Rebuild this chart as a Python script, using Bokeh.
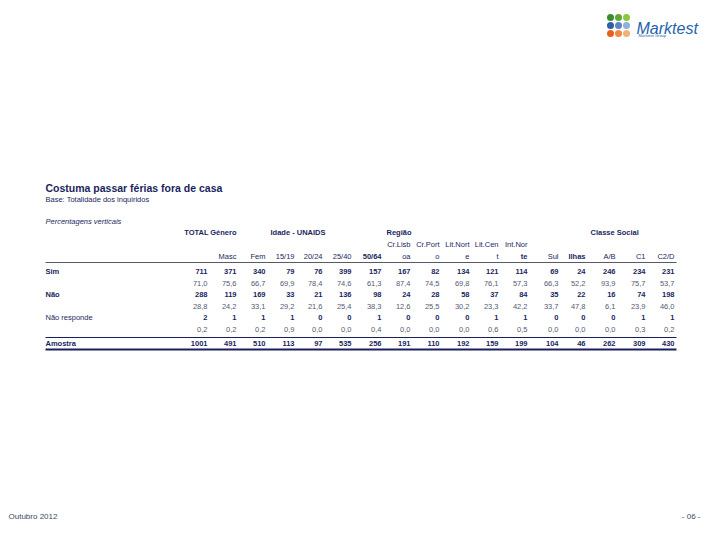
from bokeh.plotting import figure
from bokeh.models import Range1d, ColumnDataSource
from bokeh.core.properties import value
from bokeh.embed import file_html
from bokeh.resources import INLINE

# ---------------- data ----------------
title = "Costuma passar férias fora de casa"
base = "Base: Totalidade dos inquiridos"
note = "Percentagens verticais"

group_labels = ["TOTAL", "Género", "Idade - UNAIDS", "Região", "Classe Social"]
col_top = ["", "", "", "", "", "", "", "Cr.Lisb", "Cr.Port", "Lit.Nort", "Lit.Cen", "Int.Nor",
           "", "", "", "", ""]
col_bottom = ["", "Masc", "Fem", "15/19", "20/24", "25/40", "50/64", "oa", "o", "e", "t", "te",
              "Sul", "Ilhas", "A/B", "C1", "C2/D"]

row_labels = ["Sim", "Não", "Não responde"]
sim_n = [711, 371, 340, 79, 76, 399, 157, 167, 82, 134, 121, 114, 69, 24, 246, 234, 231]
sim_p = [71.0, 75.6, 66.7, 69.9, 78.4, 74.6, 61.3, 87.4, 74.5, 69.8, 76.1, 57.3, 66.3, 52.2, 93.9, 75.7, 53.7]
nao_n = [288, 119, 169, 33, 21, 136, 98, 24, 28, 58, 37, 84, 35, 22, 16, 74, 198]
nao_p = [28.8, 24.2, 33.1, 29.2, 21.6, 25.4, 38.3, 12.6, 25.5, 30.2, 23.3, 42.2, 33.7, 47.8, 6.1, 23.9, 46.0]
nr_n = [2, 1, 1, 1, 0, 0, 1, 0, 0, 0, 1, 1, 0, 0, 0, 1, 1]
nr_p = [0.2, 0.2, 0.2, 0.9, 0.0, 0.0, 0.4, 0.0, 0.0, 0.0, 0.6, 0.5, 0.0, 0.0, 0.0, 0.3, 0.2]
amostra_label = "Amostra"
amostra = [1001, 491, 510, 113, 97, 535, 256, 191, 110, 192, 159, 199, 104, 46, 262, 309, 430]

footer_left = "Outubro 2012"
footer_right = "- 06 -"
brand = "Marktest"
brand_sub = "Marktest Group"

# ---------------- layout ----------------
col_x = [207, 236, 265, 294, 322, 351, 381, 410, 439, 469, 498, 527, 558, 585, 615, 645, 674]
group_x = [208, 236, 270, 386, 590]
group_align = ["right", "right", "left", "left", "left"]
y_group, y_top, y_bottom = 232, 244, 256
row_y = [271, 294, 317]
pct_dy = 12
y_amostra = 343
label_x = 45

NAVY = "#1b1f5e"
GREY = "#555a70"
FONT = value("Liberation Sans")


def fmt_pct(v):
    return f"{v:.1f}".replace(".", ",")


p = figure(width=704, height=524, output_backend="svg", toolbar_location=None,
           x_range=Range1d(0, 704), y_range=Range1d(524, 0), min_border=0)
p.axis.visible = False
p.grid.visible = False
p.outline_line_color = None
p.background_fill_color = "white"
p.border_fill_color = "white"

# titles
p.text(x=[label_x], y=[187], text=[title], text_font=FONT, text_font_size="10.5px",
       text_font_style="bold", text_color=NAVY, text_baseline="middle")
p.text(x=[label_x], y=[199], text=[base], text_font=FONT, text_font_size="7.5px",
       text_color=NAVY, text_baseline="middle")
p.text(x=[label_x], y=[221], text=[note], text_font=FONT, text_font_size="7.5px",
       text_font_style="italic", text_color=NAVY, text_baseline="middle")

# group header
for lab, gx, al in zip(group_labels, group_x, group_align):
    p.text(x=[gx], y=[y_group], text=[lab], text_font=FONT, text_font_size="7.5px",
           text_font_style="bold", text_color=NAVY, text_baseline="middle", text_align=al)

bold_cols = {"50/64", "te", "Ilhas"}
top_src = ColumnDataSource(dict(x=col_x, y=[y_top] * len(col_x), t=col_top))
p.text(x="x", y="y", text="t", source=top_src, text_font=FONT, text_font_size="7.5px",
       text_color=NAVY, text_baseline="middle", text_align="right")
for cx, lab in zip(col_x, col_bottom):
    p.text(x=[cx], y=[y_bottom], text=[lab], text_font=FONT, text_font_size="7.5px",
           text_color=NAVY, text_baseline="middle", text_align="right",
           text_font_style="bold" if lab in bold_cols else "normal")

# rules
p.segment(x0=[label_x], y0=[262], x1=[676], y1=[262], line_color="#5a5a66", line_width=1)
p.segment(x0=[label_x], y0=[337], x1=[676], y1=[337], line_color=NAVY, line_width=1)
p.segment(x0=[label_x], y0=[349], x1=[676], y1=[349], line_color=NAVY, line_width=1.8)

# body rows
rows = [(sim_n, sim_p), (nao_n, nao_p), (nr_n, nr_p)]
for lab, ry, (ns, ps) in zip(row_labels, row_y, rows):
    p.text(x=[label_x], y=[ry], text=[lab], text_font=FONT, text_font_size="7.5px",
           text_font_style="normal" if lab == "Não responde" else "bold",
           text_color=NAVY, text_baseline="middle")
    src_n = ColumnDataSource(dict(x=col_x, y=[ry] * len(col_x), t=[str(v) for v in ns]))
    p.text(x="x", y="y", text="t", source=src_n, text_font=FONT, text_font_size="7.5px",
           text_font_style="bold", text_color=NAVY, text_baseline="middle", text_align="right")
    src_p = ColumnDataSource(dict(x=col_x, y=[ry + pct_dy] * len(col_x), t=[fmt_pct(v) for v in ps]))
    p.text(x="x", y="y", text="t", source=src_p, text_font=FONT, text_font_size="7.5px",
           text_color=GREY, text_baseline="middle", text_align="right")

p.text(x=[label_x], y=[y_amostra], text=[amostra_label], text_font=FONT, text_font_size="7.5px",
       text_font_style="bold", text_color=NAVY, text_baseline="middle")
src_a = ColumnDataSource(dict(x=col_x, y=[y_amostra] * len(col_x), t=[str(v) for v in amostra]))
p.text(x="x", y="y", text="t", source=src_a, text_font=FONT, text_font_size="7.5px",
       text_font_style="bold", text_color=NAVY, text_baseline="middle", text_align="right")

# logo
dot_colors = ["#3d8b2f", "#5ea834", "#8cc63f",
              "#2d5ea6", "#5b86c5", "#8fb0dc",
              "#e8601c", "#f08a3c", "#f5b07a"]
dx = [610, 618, 626] * 3
dy = [17] * 3 + [25] * 3 + [33] * 3
p.scatter(x=dx, y=dy, size=7, color=dot_colors, line_color=None)
p.text(x=[636], y=[28], text=[brand], text_font=FONT, text_font_size="16px",
       text_font_style="italic", text_color="#2563ae", text_baseline="alphabetic")
p.text(x=[638], y=[35], text=[brand_sub], text_font=FONT, text_font_size="4px",
       text_color="#2563ae", text_baseline="middle")

# footer
p.text(x=[8], y=[516], text=[footer_left], text_font=FONT, text_font_size="8px",
       text_color="#3b4a5e", text_baseline="middle")
p.text(x=[700], y=[516], text=[footer_right], text_font=FONT, text_font_size="8px",
       text_color="#3b4a5e", text_baseline="middle", text_align="right")

open("out.html", "w").write(file_html(p, INLINE))
